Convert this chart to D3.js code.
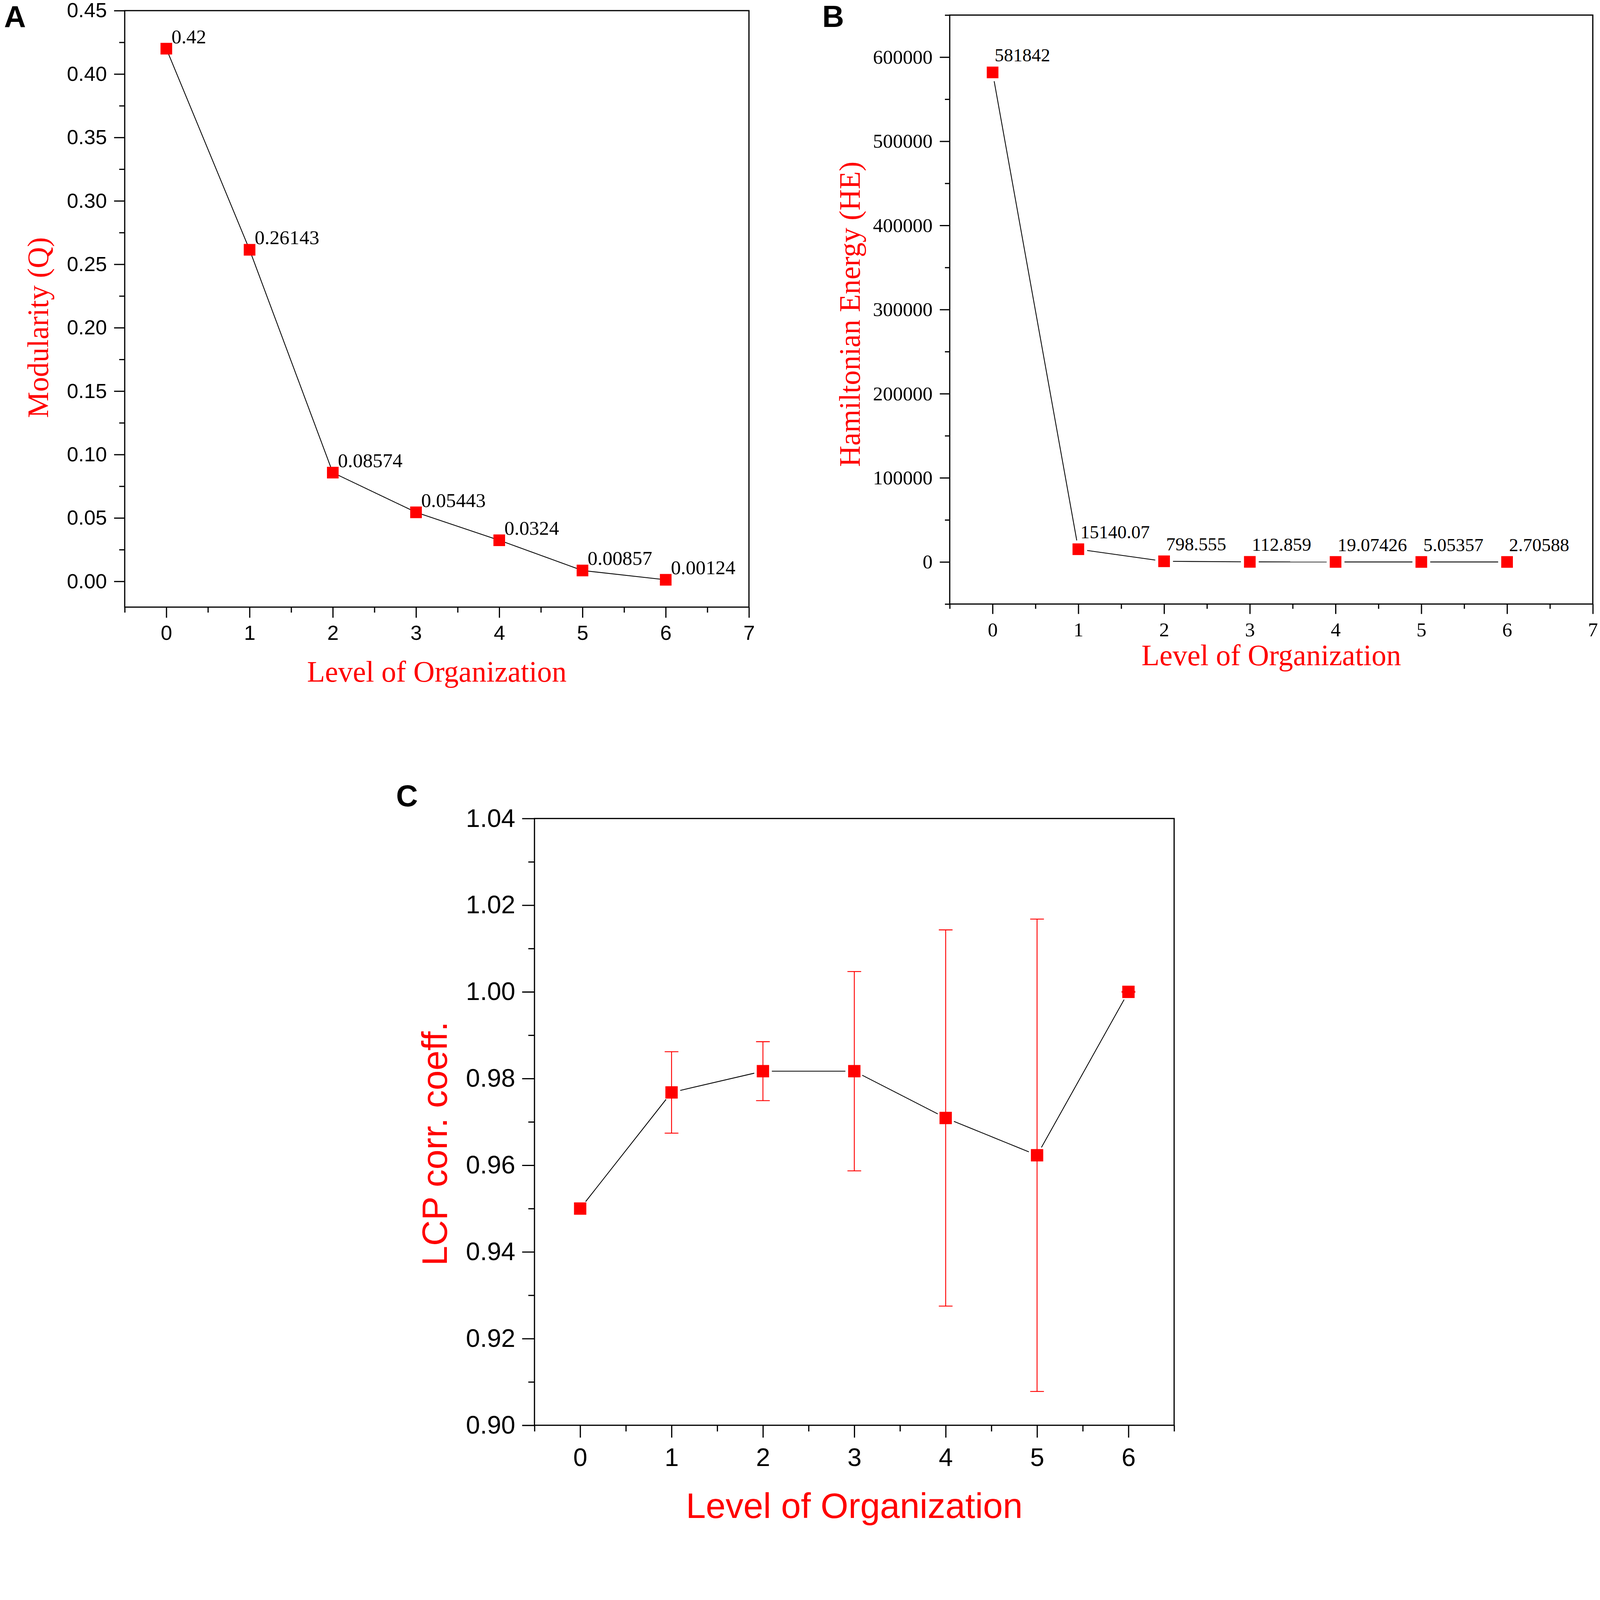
<!DOCTYPE html>
<html>
<head>
<meta charset="utf-8">
<script src="https://cdn.jsdelivr.net/npm/d3@7"></script>
<style>
 html, body { margin: 0; padding: 0; background: #fff; overflow: hidden; }
 svg { display: block; }
</style>
</head>
<body>
<script>
'use strict'
// Three panels: modularity (A), hamiltonian energy (B), LCP correlation (C)

// data
const levels = [0, 1, 2, 3, 4, 5, 6];
const modularity = [0.42, 0.26143, 0.08574, 0.05443, 0.0324, 0.00857, 0.00124];
const energy = [581842, 15140.07, 798.555, 112.859, 19.07426, 5.05357, 2.70588];
const lcpMean = [0.950, 0.9768, 0.9817, 0.9817, 0.9709, 0.9623, 1.000];
const lcpErr = [0, 0.0094, 0.0068, 0.0230, 0.0434, 0.0545, 0.0001];

// ticks
const xTicksAB = [0, 1, 2, 3, 4, 5, 6, 7];
const xMinorAB = [-0.5, 0.5, 1.5, 2.5, 3.5, 4.5, 5.5, 6.5];
const yTicksA = [0, 0.05, 0.10, 0.15, 0.20, 0.25, 0.30, 0.35, 0.40, 0.45];
const yMinorA = [0.025, 0.075, 0.125, 0.175, 0.225, 0.275, 0.325, 0.375, 0.425];
const yTicksB = [0, 100000, 200000, 300000, 400000, 500000, 600000];
const yMinorB = [-50000, 50000, 150000, 250000, 350000, 450000, 550000, 650000];
const xTicksC = [0, 1, 2, 3, 4, 5, 6];
const xMinorC = [-0.5, 0.5, 1.5, 2.5, 3.5, 4.5, 5.5, 6.5];
const yTicksC = [0.90, 0.92, 0.94, 0.96, 0.98, 1.00, 1.02, 1.04];
const yMinorC = [0.91, 0.93, 0.95, 0.97, 0.99, 1.01, 1.03];

const SANS = "'Liberation Sans', Arial, Helvetica, sans-serif";
const SERIF = "'Liberation Serif', 'Times New Roman', Times, serif";
const RED = "#ff0000";
const W = 4670, H = 4460;

// scale the drawing to whatever viewport the browser really gives us
let svg = d3.select("body").append("svg")
 .attr("width", window.innerWidth)
 .attr("height", window.innerHeight)
 .attr("viewBox", "0 0 " + W + " " + H)
 .attr("preserveAspectRatio", "xMinYMin meet");

svg.append("rect").attr("width", W).attr("height", H).attr("fill", "#fff");

// draw frame + ticks for one panel, return scales
function drawPanel(p) {
 let x = d3.scaleLinear().domain(p.xDom).range([p.l, p.r]);
 let y = d3.scaleLinear().domain(p.yDom).range([p.b, p.t]);

 function style(g, font, size) {
  g.select(".domain").remove();
  g.attr("font-family", font).attr("font-size", size);
  g.selectAll("line").attr("stroke", "#000").attr("stroke-width", 3.5);
  g.selectAll("text").attr("fill", "#000");
 }

 svg.append("g").attr("transform", "translate(0," + p.b + ")")
  .call(d3.axisBottom(x).tickValues(p.xMinor).tickSize(p.minor).tickFormat(""))
  .call(g => style(g, p.font, p.fs));
 svg.append("g").attr("transform", "translate(0," + p.b + ")")
  .call(d3.axisBottom(x).tickValues(p.xTicks).tickSize(p.major).tickPadding(p.xPad).tickFormat(d3.format("d")))
  .call(g => style(g, p.font, p.fs));
 svg.append("g").attr("transform", "translate(" + p.l + ",0)")
  .call(d3.axisLeft(y).tickValues(p.yMinor).tickSize(p.minor).tickFormat(""))
  .call(g => style(g, p.font, p.fs));
 svg.append("g").attr("transform", "translate(" + p.l + ",0)")
  .call(d3.axisLeft(y).tickValues(p.yTicks).tickSize(p.major).tickPadding(p.yPad).tickFormat(p.yFmt))
  .call(g => style(g, p.font, p.fs));

 svg.append("rect")
  .attr("x", p.l).attr("y", p.t)
  .attr("width", p.r - p.l).attr("height", p.b - p.t)
  .attr("fill", "none").attr("stroke", "#000").attr("stroke-width", 3.5);

 // titles
 svg.append("text")
  .attr("x", (p.l + p.r) / 2).attr("y", p.xTitleY)
  .attr("text-anchor", "middle")
  .attr("font-family", p.titleFont).attr("font-size", p.titleFs)
  .attr("fill", RED).text(p.xTitle);
 svg.append("text")
  .attr("transform", "translate(" + p.yTitleX + "," + p.yTitleY + ") rotate(-90)")
  .attr("text-anchor", "middle")
  .attr("font-family", p.titleFont).attr("font-size", p.yTitleFs || p.titleFs)
  .attr("fill", RED).text(p.yTitle);

 svg.append("text")
  .attr("x", p.letterX).attr("y", p.letterY)
  .attr("font-family", SANS).attr("font-weight", "bold").attr("font-size", 88)
  .attr("fill", "#000").text(p.letter);

 return { x: x, y: y };
}

// line between markers, optionally with a gap around each marker
function drawLine(sc, xs, ys, gap) {
 for (let i = 0; i < xs.length - 1; i++) {
  let x1 = sc.x(xs[i]), y1 = sc.y(ys[i]);
  let x2 = sc.x(xs[i + 1]), y2 = sc.y(ys[i + 1]);
  let len = Math.hypot(x2 - x1, y2 - y1);
  let ux = (x2 - x1) / len, uy = (y2 - y1) / len;
  svg.append("line")
   .attr("x1", x1 + ux * gap).attr("y1", y1 + uy * gap)
   .attr("x2", x2 - ux * gap).attr("y2", y2 - uy * gap)
   .attr("stroke", "#000").attr("stroke-width", 2.4);
 }
}

function drawMarkers(sc, xs, ys, size) {
 svg.append("g").selectAll("rect")
  .data(xs.map((d, i) => [d, ys[i]]))
  .join("rect")
  .attr("x", d => sc.x(d[0]) - size / 2)
  .attr("y", d => sc.y(d[1]) - size / 2)
  .attr("width", size).attr("height", size)
  .attr("fill", RED);
}

function drawLabels(sc, xs, ys, dx, dy, fs) {
 svg.append("g").selectAll("text")
  .data(xs.map((d, i) => [d, ys[i]]))
  .join("text")
  .attr("x", d => sc.x(d[0]) + dx)
  .attr("y", d => sc.y(d[1]) + dy)
  .attr("font-family", SERIF).attr("font-size", fs)
  .attr("fill", "#000")
  .text(d => String(d[1]));
}

// Panel A
let scA = drawPanel({
 l: 364, r: 2186, t: 31, b: 1772,
 xDom: [-0.5, 7], yDom: [-0.0203, 0.45],
 xTicks: xTicksAB, xMinor: xMinorAB, yTicks: yTicksA, yMinor: yMinorA,
 yFmt: d3.format(".2f"), font: SANS, fs: 60,
 major: 31, minor: 16, xPad: 22, yPad: 21,
 titleFont: SERIF, titleFs: 86,
 xTitle: "Level of Organization", xTitleY: 1990,
 yTitle: "Modularity (Q)", yTitleX: 140, yTitleY: 956,
 letter: "A", letterX: 12, letterY: 80
});
drawLine(scA, levels, modularity, 0);
drawMarkers(scA, levels, modularity, 34);
drawLabels(scA, levels, modularity, 15, -16, 58);

// Panel B
let scB = drawPanel({
 l: 2772, r: 4649, t: 44, b: 1763,
 xDom: [-0.5, 7], yDom: [-50000, 650000],
 xTicks: xTicksAB, xMinor: xMinorAB, yTicks: yTicksB, yMinor: yMinorB,
 yFmt: d3.format("d"), font: SERIF, fs: 58,
 major: 29, minor: 14, xPad: 24, yPad: 21,
 titleFont: SERIF, titleFs: 86,
 xTitle: "Level of Organization", xTitleY: 1942,
 yTitle: "Hamiltonian Energy (HE)", yTitleX: 2510, yTitleY: 917,
 letter: "B", letterX: 2400, letterY: 79
});
drawLine(scB, levels, energy, 26);
drawMarkers(scB, levels, energy, 34);
drawLabels(scB, levels, energy, 6, -32, 54);

// Panel C
let scC = drawPanel({
 l: 1560, r: 3427, t: 2389, b: 4160,
 xDom: [-0.5, 6.5], yDom: [0.90, 1.04],
 xTicks: xTicksC, xMinor: xMinorC, yTicks: yTicksC, yMinor: yMinorC,
 yFmt: d3.format(".2f"), font: SANS, fs: 74,
 major: 36, minor: 18, xPad: 30, yPad: 20,
 titleFont: SANS, titleFs: 104,
 xTitle: "Level of Organization", xTitleY: 4431,
 yTitle: "LCP corr. coeff.", yTitleX: 1304, yTitleY: 3338,
 letter: "C", letterX: 1156, letterY: 2353
});
drawLine(scC, levels, lcpMean, 26);

// error bars
let errG = svg.append("g").attr("stroke", RED).attr("stroke-width", 2.6);
levels.forEach((lv, i) => {
 if (lcpErr[i] <= 0) return;
 let cx = scC.x(lv);
 let yTop = scC.y(lcpMean[i] + lcpErr[i]);
 let yBot = scC.y(lcpMean[i] - lcpErr[i]);
 errG.append("line").attr("x1", cx).attr("x2", cx).attr("y1", yTop).attr("y2", yBot);
 errG.append("line").attr("x1", cx - 20).attr("x2", cx + 20).attr("y1", yTop).attr("y2", yTop);
 errG.append("line").attr("x1", cx - 20).attr("x2", cx + 20).attr("y1", yBot).attr("y2", yBot);
});
drawMarkers(scC, levels, lcpMean, 36);
</script>
</body>
</html>
